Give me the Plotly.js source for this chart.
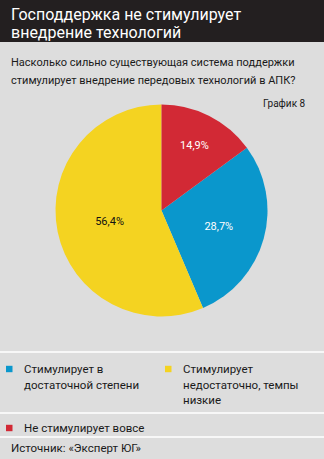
<!DOCTYPE html>
<html><head><meta charset="utf-8">
<script src="https://cdn.plot.ly/plotly-3.0.1.min.js"></script>
<style>html,body{margin:0;padding:0;background:#dddddd;}#chart{width:324px;height:459px;}</style>
</head><body><div id="chart"></div>
<script>
const labels = ["Стимулирует в достаточной степени", "Стимулирует недостаточно, темпы низкие", "Не стимулирует вовсе"];
const legendLines = [["Стимулирует в", "достаточной степени"], ["Стимулирует", "недостаточно, темпы", "низкие"], ["Не стимулирует вовсе"]];
const values = [28.7, 56.4, 14.9];
const colors = ["#0a97cc", "#f4d321", "#d22935"];
const textColors = ["#ffffff", "#111111", "#ffffff"];
const titleLines = ["Господдержка не стимулирует", "внедрение технологий"];
const question = ["Насколько сильно существующая система поддержки", "стимулирует внедрение передовых технологий в АПК?"];
const chartNo = "График 8";
const source = "Источник: «Эксперт ЮГ»";

const FONT = "Roboto, 'Liberation Sans', sans-serif";
const W = 324, H = 459;
const py = y => 1 - y / H;
const px = x => x / W;

const trace = {
  type: 'pie', values: values, labels: labels, sort: false,
  direction: 'clockwise', rotation: 53.64,
  marker: {colors: colors, line: {width: 0}},
  texttemplate: '%{value:.1f}%', textposition: 'inside',
  insidetextorientation: 'horizontal',
  insidetextfont: {color: textColors, size: 11, family: FONT},
  hoverinfo: 'none',
  domain: {x: [px(55.5), px(267.5)], y: [py(316.5), py(104.5)]}
};

const shapes = [
  {type: 'rect', xref: 'paper', yref: 'paper', x0: 0, x1: 1, y0: py(42), y1: 1, fillcolor: '#231f20', line: {width: 0}, layer: 'below'},
  {type: 'line', xref: 'paper', yref: 'paper', x0: 0, x1: 1, y0: py(352), y1: py(352), line: {color: '#ffffff', width: 1.5}},
  {type: 'line', xref: 'paper', yref: 'paper', x0: 0, x1: 1, y0: py(413), y1: py(413), line: {color: '#ffffff', width: 1.5}},
  {type: 'line', xref: 'paper', yref: 'paper', x0: 0, x1: 1, y0: py(437), y1: py(437), line: {color: '#ffffff', width: 1.5}}
];

const ann = (text, x, y, size, color, xanchor) => ({
  text: text, xref: 'paper', yref: 'paper', x: px(x), y: py(y), xanchor: xanchor || 'left', yanchor: 'middle',
  showarrow: false, font: {family: FONT, size: size, color: color}
});

const annotations = [
  ann(titleLines[0], 9, 15, 16, '#ffffff'),
  ann(titleLines[1], 9, 33, 16, '#ffffff'),
  ann(question[0], 9, 63, 11, '#1a1a1a'),
  ann(question[1], 9, 80, 11, '#1a1a1a'),
  ann(chartNo, 308, 103, 10, '#1a1a1a', 'right'),
  ann(source, 9, 448, 11.5, '#1a1a1a')
];

// custom legend (blue, yellow in first row; red in second row)
const legendPos = [{x: 6, y: 369}, {x: 165, y: 369}, {x: 6, y: 428}];
legendPos.forEach((p, i) => {
  shapes.push({type: 'rect', xref: 'paper', yref: 'paper', x0: px(p.x), x1: px(p.x + 6.5), y0: py(p.y + 3.2), y1: py(p.y - 3.2), fillcolor: colors[i], line: {width: 0}});
  legendLines[i].forEach((t, k) => annotations.push(ann(t, p.x + 16, p.y + k * 15.5, 11.5, '#1a1a1a')));
});

const layout = {
  width: W, height: H, margin: {l: 0, r: 0, t: 0, b: 0, autoexpand: false},
  paper_bgcolor: '#dddddd', plot_bgcolor: '#dddddd',
  separators: ',.',
  showlegend: false,
  shapes: shapes, annotations: annotations
};

Plotly.newPlot('chart', [trace], layout, {staticPlot: true, displayModeBar: false});
</script></body></html>
